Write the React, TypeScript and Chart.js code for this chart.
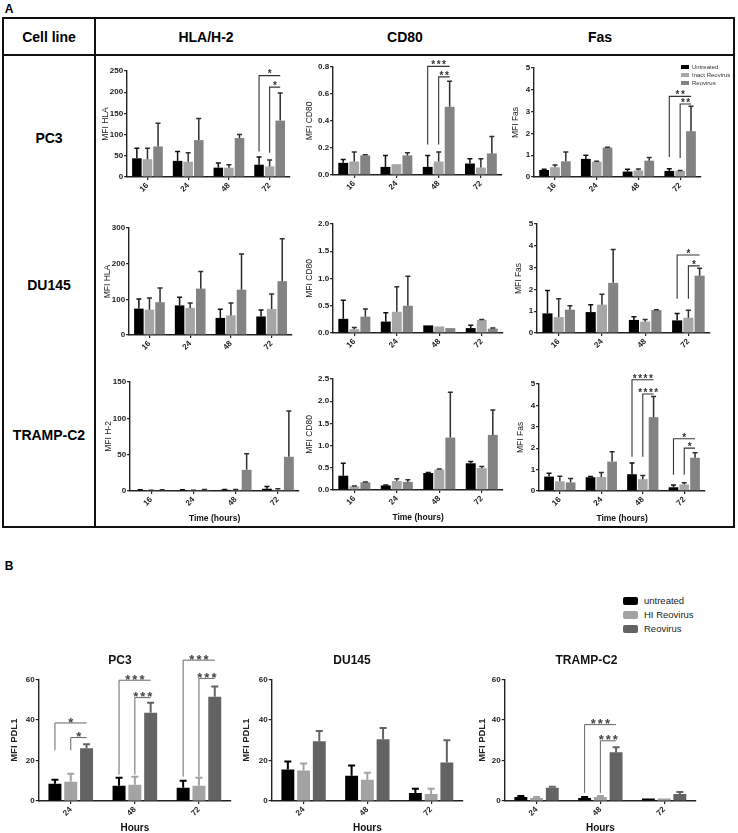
import React, { useEffect, useRef } from 'react';
import { Chart, registerables } from 'chart.js';
Chart.register(...registerables);

const FONT = "'Liberation Sans', Arial, Helvetica, sans-serif";

// ---------- categories / series ----------
const timesA = ['16', '24', '48', '72'];
const timesB = ['24', '48', '72'];
const seriesA = ['Untreated', 'Inact Reovirus', 'Reovirus'];
const seriesB = ['untreated', 'HI Reovirus', 'Reovirus'];
const colorsA = ['#000000', '#a6a6a6', '#838383'];
const colorsB = ['#000000', '#a3a3a3', '#636363'];
const errColorsA = ['#111111', '#2e2e2e', '#2e2e2e'];
const errColorsB = ['#000000', '#a3a3a3', '#636363'];

// ---------- Panel A (rows: untreated, inactivated reovirus, reovirus) ----------
const pc3Hla = [[44, 38, 22, 29], [42, 36, 22, 25], [72, 87, 92, 133]];
const pc3HlaTop = [[68, 60, 33, 47], [68, 57, 29, 40], [127, 138, 100, 198]];
const pc3Cd80 = [[0.09, 0.06, 0.06, 0.085], [0.1, 0.08, 0.1, 0.055], [0.145, 0.145, 0.505, 0.16]];
const pc3Cd80Top = [[0.115, 0.145, 0.145, 0.12], [0.17, 0.08, 0.17, 0.12], [0.15, 0.165, 0.695, 0.285]];
const pc3Fas = [[0.32, 0.83, 0.25, 0.28], [0.45, 0.7, 0.3, 0.28], [0.72, 1.35, 0.75, 2.1]];
const pc3FasTop = [[0.35, 1.0, 0.35, 0.38], [0.55, 0.72, 0.37, 0.3], [1.15, 1.37, 0.9, 3.25]];

const du145Hla = [[74, 83, 48, 52], [71, 76, 55, 73], [92, 130, 127, 151]];
const du145HlaTop = [[101, 106, 72, 70], [104, 90, 90, 115], [132, 178, 227, 270]];
const du145Cd80 = [[0.26, 0.21, 0.14, 0.09], [0.07, 0.39, 0.12, 0.24], [0.3, 0.5, 0.09, 0.08]];
const du145Cd80Top = [[0.6, 0.37, 0.14, 0.14], [0.1, 0.85, 0.12, 0.25], [0.44, 1.04, 0.09, 0.09]];
const du145Fas = [[0.9, 0.96, 0.6, 0.58], [0.73, 1.3, 0.52, 0.7], [1.07, 2.3, 1.05, 2.63]];
const du145FasTop = [[1.95, 1.3, 0.75, 0.9], [1.57, 1.78, 0.62, 1.04], [1.25, 3.83, 1.07, 2.97]];

const trampH2 = [[1, 1, 1.5, 3], [0.5, 0.5, 1.5, 1.5], [1, 1.5, 29, 47]];
const trampH2Top = [[1.5, 1.5, 2, 6], [0.8, 0.8, 2, 3], [1.5, 2, 51, 110]];
const trampCd80 = [[0.32, 0.1, 0.38, 0.6], [0.08, 0.2, 0.46, 0.49], [0.17, 0.18, 1.18, 1.24]];
const trampCd80Top = [[0.6, 0.11, 0.39, 0.64], [0.09, 0.25, 0.47, 0.53], [0.18, 0.23, 2.2, 1.8]];
const trampFas = [[0.67, 0.64, 0.78, 0.17], [0.45, 0.65, 0.55, 0.3], [0.4, 1.37, 3.45, 1.55]];
const trampFasTop = [[0.83, 0.67, 1.3, 0.28], [0.68, 0.86, 0.72, 0.38], [0.58, 1.83, 4.42, 1.78]];

// ---------- Panel B (PD-L1) ----------
const pdl1Pc3 = [[8.5, 7.5, 6.5], [9.5, 8, 7.5], [26, 43.5, 51.5]];
const pdl1Pc3Top = [[10.5, 11.5, 10], [13.5, 12, 11.5], [28, 48.5, 56.5]];
const pdl1Du145 = [[15.5, 12.5, 4], [15, 10.5, 3.5], [29.5, 30.5, 19]];
const pdl1Du145Top = [[19.5, 17.5, 6], [18.5, 14, 6], [34.5, 36, 30]];
const pdl1Tramp = [[2, 1.5, 1.2], [1.5, 2, 1.2], [6.5, 24, 3.5]];
const pdl1TrampTop = [[2.5, 2, 1.2], [2, 2.5, 1.2], [7, 26.5, 4.5]];

// ---------- significance brackets (category, from series, to series, line value, leg bottom value) ----------
type Sig = { cat: number; from: number; to: number; y: number; leg: number; label: string };
const sigPc3Hla: Sig[] = [
  { cat: 3, from: 0, to: 2, y: 239, leg: 60, label: '*' },
  { cat: 3, from: 1, to: 2, y: 212, leg: 57, label: '*' },
];
const sigPc3Cd80: Sig[] = [
  { cat: 2, from: 0, to: 2, y: 0.805, leg: 0.226, label: '***' },
  { cat: 2, from: 1, to: 2, y: 0.727, leg: 0.226, label: '**' },
];
const sigPc3Fas: Sig[] = [
  { cat: 3, from: 0, to: 2, y: 3.7, leg: 0.92, label: '**' },
  { cat: 3, from: 1, to: 2, y: 3.35, leg: 0.87, label: '**' },
];
const sigDu145Fas: Sig[] = [
  { cat: 3, from: 0, to: 2, y: 3.58, leg: 1.57, label: '*' },
  { cat: 3, from: 1, to: 2, y: 3.08, leg: 1.57, label: '*' },
];
const sigTrampFas: Sig[] = [
  { cat: 2, from: 0, to: 2, y: 5.2, leg: 1.6, label: '****' },
  { cat: 2, from: 1, to: 2, y: 4.53, leg: 1.6, label: '****' },
  { cat: 3, from: 0, to: 2, y: 2.44, leg: 0.75, label: '*' },
  { cat: 3, from: 1, to: 2, y: 2.0, leg: 0.75, label: '*' },
];
const sigPdl1Pc3: Sig[] = [
  { cat: 0, from: 0, to: 2, y: 38.5, leg: 25, label: '*' },
  { cat: 0, from: 1, to: 2, y: 31.3, leg: 25, label: '*' },
  { cat: 1, from: 0, to: 2, y: 59.6, leg: 13, label: '***' },
  { cat: 1, from: 1, to: 2, y: 51, leg: 13, label: '***' },
  { cat: 2, from: 0, to: 2, y: 69.5, leg: 12, label: '***' },
  { cat: 2, from: 1, to: 2, y: 60.5, leg: 12, label: '***' },
];
const sigPdl1Tramp: Sig[] = [
  { cat: 1, from: 0, to: 2, y: 37.7, leg: 4, label: '***' },
  { cat: 1, from: 1, to: 2, y: 29.7, leg: 4, label: '***' },
];

type Style = {
  tick: number; yTitle: number; yTitleBold: boolean; xTitle: number; title: number;
  catPct: number; barPct: number; errW: number; cap: number;
  sigFont: number; sigColor: string; sigLine: string; sigLW: number; sigSpacing: number; sigGap: number;
  xAxisH: number; xTitleDrop: number; axis: string; axisW: number;
};
const styleA: Style = {
  tick: 8, yTitle: 8.5, yTitleBold: false, xTitle: 8.5, title: 12,
  catPct: 0.78, barPct: 0.9, errW: 1.5, cap: 2.5,
  sigFont: 10, sigColor: '#333', sigLine: '#333', sigLW: 1.1, sigSpacing: 1.5, sigGap: 4,
  xAxisH: 22, xTitleDrop: 28, axis: '#222', axisW: 1.4,
};
const styleB: Style = {
  tick: 8, yTitle: 9.5, yTitleBold: true, xTitle: 10, title: 12,
  catPct: 0.74, barPct: 0.82, errW: 2, cap: 3.5,
  sigFont: 13, sigColor: '#444', sigLine: '#666', sigLW: 1, sigSpacing: 2, sigGap: 4,
  xAxisH: 24, xTitleDrop: 27, axis: '#222', axisW: 1.4,
};

type Props = {
  labels: string[]; series: string[]; means: number[][]; tops: number[][];
  colors: string[]; errColors: string[];
  yMax: number; yStep: number; dec: number; yTitle: string; xTitle?: string; title?: string;
  plot: [number, number, number, number];
  yTitleGap: number; S: Style; sig?: Sig[]; padR?: number;
};

function BarPanel(p: Props) {
  const ref = useRef<HTMLCanvasElement | null>(null);
  const S = p.S;
  const [L, T, R, B] = p.plot;
  const YW = p.yTitleGap + (S.yTitle * 1.2) / 2;
  const XH = p.xTitle ? S.xTitleDrop + (S.xTitle * 1.2) / 2 : S.xAxisH;
  const titlePadB = 12;
  const titleH = p.title ? S.title * 1.2 + titlePadB : 0;
  const padL = 2;
  const padT = p.title ? 0 : 10;
  const padR = p.padR ?? 6;
  const padB = 1;
  const cLeft = Math.round(L - YW - padL);
  const cTop = Math.round(T - titleH - padT);
  const width = Math.round(R + padR - cLeft);
  const height = Math.round(B + XH + padB - cTop);

  useEffect(() => {
    if (!ref.current) return;
    const errPlugin = {
      id: 'errbars',
      afterDatasetsDraw(chart: any) {
        const ctx = chart.ctx;
        const ys = chart.scales.y;
        ctx.save();
        p.tops.forEach((row, i) => {
          const meta = chart.getDatasetMeta(i);
          meta.data.forEach((bar: any, j: number) => {
            const top = row[j];
            const mean = p.means[i][j];
            if (top == null || top <= mean) return;
            const y1 = ys.getPixelForValue(top);
            ctx.strokeStyle = p.errColors[i];
            ctx.lineWidth = S.errW;
            ctx.beginPath();
            ctx.moveTo(bar.x, bar.y);
            ctx.lineTo(bar.x, y1);
            ctx.moveTo(bar.x - S.cap, y1);
            ctx.lineTo(bar.x + S.cap, y1);
            ctx.stroke();
          });
        });
        ctx.restore();
      },
    };
    const sigPlugin = {
      id: 'sig',
      afterDraw(chart: any) {
        if (!p.sig) return;
        const ctx = chart.ctx;
        const ys = chart.scales.y;
        ctx.save();
        p.sig.forEach((s) => {
          const xa = chart.getDatasetMeta(s.from).data[s.cat].x;
          const xb = chart.getDatasetMeta(s.to).data[s.cat].x;
          const yl = ys.getPixelForValue(s.y);
          const yb = ys.getPixelForValue(s.leg);
          ctx.strokeStyle = S.sigLine;
          ctx.lineWidth = S.sigLW;
          ctx.beginPath();
          ctx.moveTo(xa, yb);
          ctx.lineTo(xa, yl);
          ctx.lineTo(xb, yl);
          ctx.stroke();
          ctx.fillStyle = S.sigColor;
          ctx.font = `bold ${S.sigFont}px ${FONT}`;
          (ctx as any).letterSpacing = `${S.sigSpacing}px`;
          ctx.textAlign = 'center';
          ctx.textBaseline = 'alphabetic';
          ctx.fillText(s.label, (xa + xb) / 2 + S.sigSpacing / 2, yl + 0.58 * S.sigFont - S.sigGap);
        });
        ctx.restore();
      },
    };
    const chart = new Chart(ref.current, {
      type: 'bar',
      data: {
        labels: p.labels,
        datasets: p.means.map((m, i) => ({
          label: p.series[i],
          data: m,
          backgroundColor: p.colors[i],
          borderWidth: 0,
          categoryPercentage: S.catPct,
          barPercentage: S.barPct,
        })),
      },
      options: {
        responsive: false,
        maintainAspectRatio: false,
        animation: false,
        events: [],
        layout: { padding: { left: padL, top: padT, right: padR, bottom: padB } },
        plugins: {
          legend: { display: false },
          tooltip: { enabled: false },
          title: {
            display: !!p.title,
            text: p.title || '',
            color: '#111',
            font: { family: FONT, size: S.title, weight: 'bold' },
            padding: { top: 0, bottom: titlePadB },
          },
        },
        scales: {
          x: {
            grid: { offset: false, drawOnChartArea: false, drawTicks: true, tickLength: 3, color: S.axis, lineWidth: 1.2 },
            border: { display: true, color: S.axis, width: S.axisW },
            ticks: {
              autoSkip: false, minRotation: 45, maxRotation: 45, padding: 1, color: '#222',
              font: { family: FONT, size: S.tick, weight: 'bold' },
            },
            title: {
              display: !!p.xTitle, text: p.xTitle || '', padding: 0, color: '#111',
              font: { family: FONT, size: S.xTitle, weight: 'bold' },
            },
            afterFit: (s: any) => { s.height = XH; },
          },
          y: {
            min: 0,
            max: p.yMax,
            grid: { drawOnChartArea: false, drawTicks: true, tickLength: 3, color: S.axis, lineWidth: 1.2 },
            border: { display: true, color: S.axis, width: S.axisW },
            ticks: {
              stepSize: p.yStep, padding: 1, color: '#222',
              font: { family: FONT, size: S.tick, weight: 'bold' },
              callback: (v: any) => Number(v).toFixed(p.dec),
            },
            title: {
              display: true, text: p.yTitle, padding: 0, color: '#222',
              font: { family: FONT, size: S.yTitle, weight: S.yTitleBold ? 'bold' : 'normal' },
            },
            afterFit: (s: any) => { s.width = YW; },
          },
        },
      } as any,
      plugins: [errPlugin, sigPlugin],
    });
    return () => chart.destroy();
  }, []);

  return (
    <canvas
      ref={ref}
      width={width}
      height={height}
      style={{ position: 'absolute', left: cLeft, top: cTop, width, height }}
    />
  );
}

function Txt(props: { x: number; y: number; size: number; bold?: boolean; color?: string; children: React.ReactNode; align?: 'left' | 'center' }) {
  const align = props.align || 'center';
  return (
    <div
      style={{
        position: 'absolute',
        left: props.x,
        top: props.y,
        transform: align === 'center' ? 'translate(-50%, -50%)' : 'translate(0, -50%)',
        fontSize: props.size,
        fontWeight: props.bold ? 'bold' : 'normal',
        color: props.color || '#000',
        whiteSpace: 'nowrap',
        lineHeight: 1,
        fontFamily: FONT,
      }}
    >
      {props.children}
    </div>
  );
}

function Box(props: { x: number; y: number; w: number; h: number; color: string }) {
  return <div style={{ position: 'absolute', left: props.x, top: props.y, width: props.w, height: props.h, background: props.color }} />;
}

export default function App() {
  const line = '#111';
  return (
    <div style={{ position: 'absolute', left: 0, top: 0, width: 738, height: 833, overflow: 'hidden', background: '#fff', fontFamily: FONT }}>
      <Txt x={9} y={9} size={12} bold>A</Txt>
      {/* table frame */}
      <div style={{ position: 'absolute', left: 2, top: 17, width: 733, height: 511, border: `2px solid ${line}`, boxSizing: 'border-box' }} />
      <Box x={2} y={54} w={733} h={2} color={line} />
      <Box x={94} y={17} w={2} h={511} color={line} />
      <Txt x={49} y={37} size={14} bold>Cell line</Txt>
      <Txt x={206} y={37} size={14} bold>HLA/H-2</Txt>
      <Txt x={405} y={37} size={14} bold>CD80</Txt>
      <Txt x={600} y={37} size={14} bold>Fas</Txt>
      <Txt x={49} y={138} size={14} bold>PC3</Txt>
      <Txt x={49} y={285} size={14} bold>DU145</Txt>
      <Txt x={49} y={435} size={14} bold>TRAMP-C2</Txt>

      {/* Row PC3 */}
      <BarPanel labels={timesA} series={seriesA} means={pc3Hla} tops={pc3HlaTop} colors={colorsA} errColors={errColorsA}
        yMax={250} yStep={50} dec={0} yTitle="MFI HLA" plot={[127, 71, 290, 177]} yTitleGap={21} S={styleA} sig={sigPc3Hla} />
      <BarPanel labels={timesA} series={seriesA} means={pc3Cd80} tops={pc3Cd80Top} colors={colorsA} errColors={errColorsA}
        yMax={0.8} yStep={0.2} dec={1} yTitle="MFI CD80" plot={[333, 67, 502, 175]} yTitleGap={23} S={styleA} sig={sigPc3Cd80} />
      <BarPanel labels={timesA} series={seriesA} means={pc3Fas} tops={pc3FasTop} colors={colorsA} errColors={errColorsA}
        yMax={5} yStep={1} dec={0} yTitle="MFI Fas" plot={[534, 68, 701, 177]} yTitleGap={18} S={styleA} sig={sigPc3Fas} />
      {/* legend A */}
      {seriesA.map((s, i) => (
        <React.Fragment key={s}>
          <Box x={681} y={65 + i * 8} w={8} h={4} color={colorsA[i]} />
          <Txt x={692} y={67 + i * 8} size={6} color="#333" align="left">{s}</Txt>
        </React.Fragment>
      ))}

      {/* Row DU145 */}
      <BarPanel labels={timesA} series={seriesA} means={du145Hla} tops={du145HlaTop} colors={colorsA} errColors={errColorsA}
        yMax={300} yStep={100} dec={0} yTitle="MFI HLA" plot={[129, 228, 292, 335]} yTitleGap={21} S={styleA} />
      <BarPanel labels={timesA} series={seriesA} means={du145Cd80} tops={du145Cd80Top} colors={colorsA} errColors={errColorsA}
        yMax={2} yStep={0.5} dec={1} yTitle="MFI CD80" plot={[333, 224, 503, 333]} yTitleGap={23} S={styleA} />
      <BarPanel labels={timesA} series={seriesA} means={du145Fas} tops={du145FasTop} colors={colorsA} errColors={errColorsA}
        yMax={5} yStep={1} dec={0} yTitle="MFI Fas" plot={[537, 224, 710, 333]} yTitleGap={18} S={styleA} sig={sigDu145Fas} />

      {/* Row TRAMP-C2 */}
      <BarPanel labels={timesA} series={seriesA} means={trampH2} tops={trampH2Top} colors={colorsA} errColors={errColorsA}
        yMax={150} yStep={50} dec={0} yTitle="MFI H-2" xTitle="Time (hours)" plot={[130, 382, 299, 491]} yTitleGap={21} S={styleA} />
      <BarPanel labels={timesA} series={seriesA} means={trampCd80} tops={trampCd80Top} colors={colorsA} errColors={errColorsA}
        yMax={2.5} yStep={0.5} dec={1} yTitle="MFI CD80" xTitle="Time (hours)" plot={[333, 379, 503, 490]} yTitleGap={23} S={styleA} />
      <BarPanel labels={timesA} series={seriesA} means={trampFas} tops={trampFasTop} colors={colorsA} errColors={errColorsA}
        yMax={5} yStep={1} dec={0} yTitle="MFI Fas" xTitle="Time (hours)" plot={[539, 384, 705, 491]} yTitleGap={18} S={styleA} sig={sigTrampFas} />

      {/* Panel B */}
      <Txt x={9} y={566} size={12} bold>B</Txt>
      {seriesB.map((s, i) => (
        <React.Fragment key={s}>
          <div style={{ position: 'absolute', left: 623, top: 597 + i * 14, width: 15, height: 8, background: colorsB[i], borderRadius: 2 }} />
          <Txt x={644} y={601 + i * 14} size={9.5} color="#222" align="left">{s}</Txt>
        </React.Fragment>
      ))}
      <BarPanel labels={timesB} series={seriesB} means={pdl1Pc3} tops={pdl1Pc3Top} colors={colorsB} errColors={errColorsB}
        yMax={60} yStep={20} dec={0} yTitle="MFI PDL1" xTitle="Hours" title="PC3" plot={[38.5, 679, 230.5, 801]} yTitleGap={24} S={styleB} sig={sigPdl1Pc3} padR={8} />
      <BarPanel labels={timesB} series={seriesB} means={pdl1Du145} tops={pdl1Du145Top} colors={colorsB} errColors={errColorsB}
        yMax={60} yStep={20} dec={0} yTitle="MFI PDL1" xTitle="Hours" title="DU145" plot={[272, 679, 463, 801]} yTitleGap={25} S={styleB} padR={12} />
      <BarPanel labels={timesB} series={seriesB} means={pdl1Tramp} tops={pdl1TrampTop} colors={colorsB} errColors={errColorsB}
        yMax={60} yStep={20} dec={0} yTitle="MFI PDL1" xTitle="Hours" title="TRAMP-C2" plot={[505, 679, 696, 801]} yTitleGap={22} S={styleB} sig={sigPdl1Tramp} padR={12} />
    </div>
  );
}
